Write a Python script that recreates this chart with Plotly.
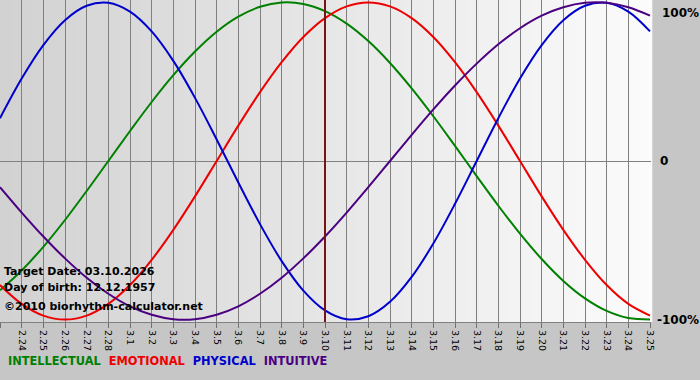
import plotly.graph_objects as go

# ---- data ----
day_labels = ["2.23", "2.24", "2.25", "2.26", "2.27", "2.28", "3.1", "3.2", "3.3", "3.4",
              "3.5", "3.6", "3.7", "3.8", "3.9", "3.10", "3.11", "3.12", "3.13", "3.14",
              "3.15", "3.16", "3.17", "3.18", "3.19", "3.20", "3.21", "3.22", "3.23", "3.24", "3.25"]

physical = [27.0, 52.0, 73.1, 88.8, 97.9, 99.8, 94.2, 81.7, 63.1, 39.8, 13.6, -13.6, -39.8, -63.1,
            -81.7, -94.2, -99.8, -97.9, -88.8, -73.1, -52.0, -27.0, 0.0, 27.0, 52.0, 73.1, 88.8,
            97.9, 99.8, 94.2, 81.7]
emotional = [-78.2, -90.1, -97.5, -100.0, -97.5, -90.1, -78.2, -62.3, -43.4, -22.3, 0.0, 22.3,
             43.4, 62.3, 78.2, 90.1, 97.5, 100.0, 97.5, 90.1, 78.2, 62.3, 43.4, 22.3, 0.0, -22.3,
             -43.4, -62.3, -78.2, -90.1, -97.5]
intellectual = [-81.5, -69.0, -54.1, -37.2, -18.9, 0.0, 18.9, 37.2, 54.1, 69.0, 81.5, 91.0, 97.2,
                99.9, 99.0, 94.5, 86.6, 75.6, 61.8, 45.8, 28.2, 9.5, -9.5, -28.2, -45.8, -61.8,
                -75.6, -86.6, -94.5, -99.0, -99.9]
intuitive = [-16.5, -32.5, -47.6, -61.4, -73.6, -83.7, -91.6, -96.9, -99.7, -99.7, -96.9, -91.6,
             -83.7, -73.6, -61.4, -47.6, -32.5, -16.5, 0.0, 16.5, 32.5, 47.6, 61.4, 73.6, 83.7,
             91.6, 96.9, 99.7, 99.7, 96.9, 91.6]

series_names = ["INTELLECTUAL", "EMOTIONAL", "PHYSICAL", "INTUITIVE"]
series_values = [intellectual, emotional, physical, intuitive]
series_colors = ["#008000", "#ee0000", "#0000cc", "#4b0082"]
target_label = "3.10"
info_lines = ["Target Date: 03.10.2026", "Day of birth: 12.12.1957", "©2010 biorhythm-calculator.net"]
y_labels = ["100%", "0", "-100%"]
y_label_vals = [100, 0, -100]

W, H = 700, 380
PLOT_W, PLOT_H = 651, 322
x_idx = list(range(len(day_labels)))
target_idx = day_labels.index(target_label)

fig = go.Figure()
for name, vals, col in zip(series_names, series_values, series_colors):
    fig.add_trace(go.Scatter(x=x_idx, y=vals, mode="lines", name=name,
                             line=dict(color=col, width=2, shape="spline", smoothing=1.0),
                             hoverinfo="skip"))

# background gradient inside plot area
shapes = []
n = 60
c0, c1 = 210, 251
for i in range(n):
    c = int(round(c0 + (c1 - c0) * i / (n - 1)))
    shapes.append(dict(type="rect", xref="x domain", yref="y domain",
                       x0=i / n, x1=(i + 1) / n + 0.002, y0=0, y1=1,
                       fillcolor=f"rgb({c},{c},{c})", line=dict(width=0), layer="below"))
# target date line
shapes.append(dict(type="line", xref="x", yref="y domain", x0=target_idx, x1=target_idx,
                   y0=0, y1=1, line=dict(color="#7a1414", width=2), layer="above"))

annotations = []
for k, t in enumerate(info_lines):
    annotations.append(dict(text="<b>" + t + "</b>", xref="paper", yref="paper",
                            x=2 / W, y=1 - ([271, 287, 306][k]) / PLOT_H, xanchor="left", yanchor="middle",
                            showarrow=False, font=dict(family="DejaVu Sans", size=11, color="black")))

legend_html = "&nbsp;&nbsp;".join(
    f"<span style='color:{c}'>{n}</span>" for n, c in zip(series_names, series_colors))
annotations.append(dict(text="<b>" + legend_html + "</b>", xref="paper", yref="paper",
                        x=6 / W, y=1 - (361 / PLOT_H), xanchor="left", yanchor="middle",
                        showarrow=False, font=dict(family="DejaVu Sans", size=11.4)))

label_px = [660, 658, 655]
for txt, val, px in zip(y_labels, y_label_vals, label_px):
    annotations.append(dict(text="<b>" + txt + "</b>", xref="paper", yref="y",
                            x=px / PLOT_W, y=val if val != 100 else 93, xanchor="left", yanchor="middle",
                            showarrow=False, font=dict(family="DejaVu Sans", size=12, color="black")))

fig.update_layout(
    width=W, height=H,
    margin=dict(l=0, r=W - PLOT_W, t=0, b=H - PLOT_H),
    paper_bgcolor="#c6c6c6",
    plot_bgcolor="rgba(0,0,0,0)",
    showlegend=False,
    shapes=shapes,
    annotations=annotations,
    xaxis=dict(range=[0, 30 * 651 / 650], tickmode="array", tickvals=x_idx, ticktext=day_labels,
               tickangle=90, tickfont=dict(family="DejaVu Sans", size=9.5, color="black"),
               showgrid=True, gridcolor="#808080", gridwidth=1,
               ticks="outside", ticklen=5, tickcolor="#707070",
               showline=True, linecolor="#808080", linewidth=1, zeroline=False, fixedrange=True),
    yaxis=dict(range=[-101.5, 101.5], showticklabels=False, showgrid=False,
               zeroline=True, zerolinecolor="#808080", zerolinewidth=1, fixedrange=True),
)

fig.write_html("out.html")
